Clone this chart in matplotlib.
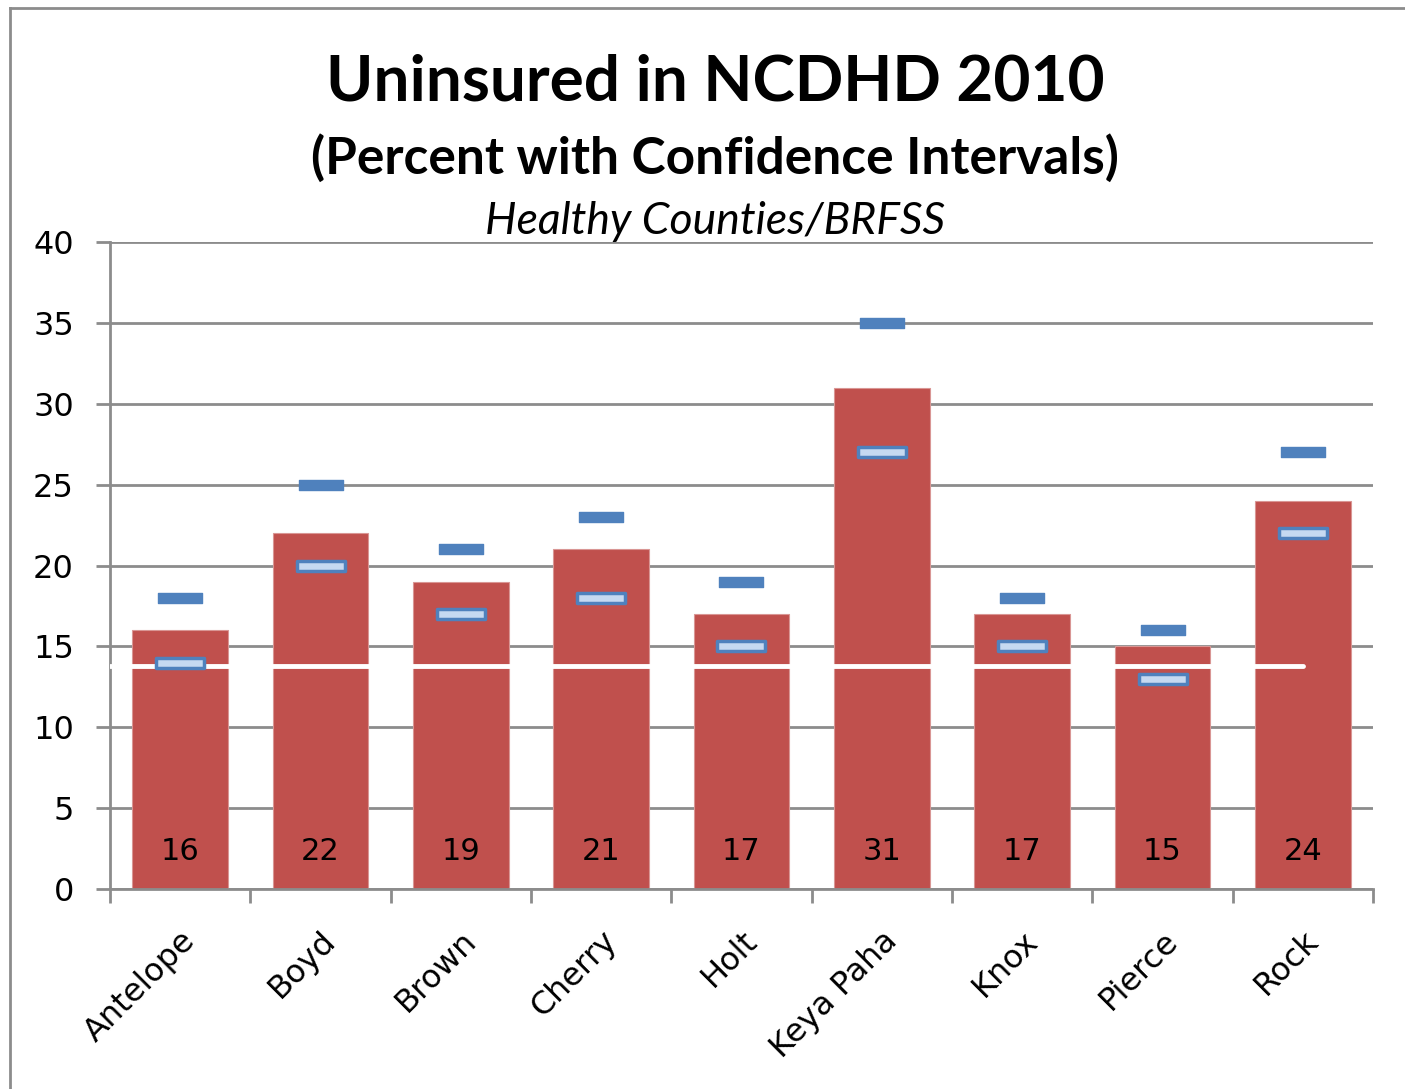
import numpy as np
import matplotlib as mpl
mpl.use("Agg")
import matplotlib.pyplot as plt
from matplotlib.path import Path
from matplotlib.lines import Line2D

counties = ["Antelope", "Boyd", "Brown", "Cherry", "Holt", "Keya Paha", "Knox", "Pierce", "Rock"]
percent = [16, 22, 19, 21, 17, 31, 17, 15, 24]
upper_ci = [18, 25, 21, 23, 19, 35, 18, 16, 27]
lower_ci = [14, 20, 17, 18, 15, 27, 15, 13, 22]
state_avg = 13.8
yticks = [0, 5, 10, 15, 20, 25, 30, 35, 40]

plt.rcParams['font.family'] = ['DejaVu Sans']

fig = plt.figure(figsize=(14.05, 10.89), dpi=100)
ax = fig.add_axes([110/1405, 1-889/1089, (1373-110)/1405, (889-242)/1089])

x = np.arange(len(counties))
ax.bar(x, percent, width=0.68, color="#C0504D", edgecolor="#D99694", linewidth=0.8, zorder=2)

# white state line across the bars
ax.plot([-0.5, 8], [state_avg, state_avg], color="white", lw=3.5, solid_capstyle="round", zorder=3)

rect_up = Path([(-1, -0.24), (1, -0.24), (1, 0.24), (-1, 0.24), (-1, -0.24)],
               [Path.MOVETO, Path.LINETO, Path.LINETO, Path.LINETO, Path.CLOSEPOLY])
rect_lo = Path([(-1, -0.22), (1, -0.22), (1, 0.22), (-1, 0.22), (-1, -0.22)],
               [Path.MOVETO, Path.LINETO, Path.LINETO, Path.LINETO, Path.CLOSEPOLY])
ax.plot(x, upper_ci, ls="none", marker=rect_up, ms=31, color="#4F81BD",
        markeredgecolor="#4F81BD", markeredgewidth=1, zorder=4)
ax.plot(x, lower_ci, ls="none", marker=rect_lo, ms=34, markerfacecolor="#C6D9F1",
        markeredgecolor="#4F81BD", markeredgewidth=2.5, zorder=4)

for xi, v in zip(x, percent):
    ax.text(xi, 2.3, str(v), ha="center", va="center", fontsize=22, color="black", zorder=5)

ax.set_xlim(-0.5, len(counties) - 0.5)
ax.set_ylim(0, 40)
ax.set_yticks(yticks)
ax.set_yticklabels([str(t) for t in yticks], fontsize=23)
ax.yaxis.grid(True, color="#8C8C8C", lw=2)
ax.set_axisbelow(True)

ax.set_xticks(x)
ax.set_xticklabels(counties, rotation=45, ha="right", rotation_mode="anchor", fontsize=23)
ax.set_xticks(np.arange(len(counties) + 1) - 0.5, minor=True)
ax.tick_params(axis="x", which="major", length=0, pad=26)
ax.tick_params(axis="x", which="minor", length=10, width=2, color="#8C8C8C")
ax.tick_params(axis="y", length=10, width=2, color="#8C8C8C", pad=16)

for s in ["top", "right"]:
    ax.spines[s].set_visible(False)
for s in ["left", "bottom"]:
    ax.spines[s].set_color("#8C8C8C")
    ax.spines[s].set_linewidth(2)

fig.text(715/1405, 1-82/1089, "Uninsured in NCDHD 2010", ha="center", va="center",
         fontsize=46, fontweight="bold", family="Lato")
fig.text(715/1405, 1-158/1089, "(Percent with Confidence Intervals)", ha="center", va="center",
         fontsize=37, fontweight="bold", family="Lato")
fig.text(715/1405, 1-221/1089, "Healthy Counties/BRFSS", ha="center", va="center",
         fontsize=32, style="italic", family="Lato")

# outer chart border
fig.add_artist(Line2D([10/1405, 10/1405], [0, 1-8/1089], color="#8C8C8C", lw=2, transform=fig.transFigure))
fig.add_artist(Line2D([10/1405, 1], [1-8/1089, 1-8/1089], color="#8C8C8C", lw=2, transform=fig.transFigure))

fig.savefig("out.png", dpi=100)
